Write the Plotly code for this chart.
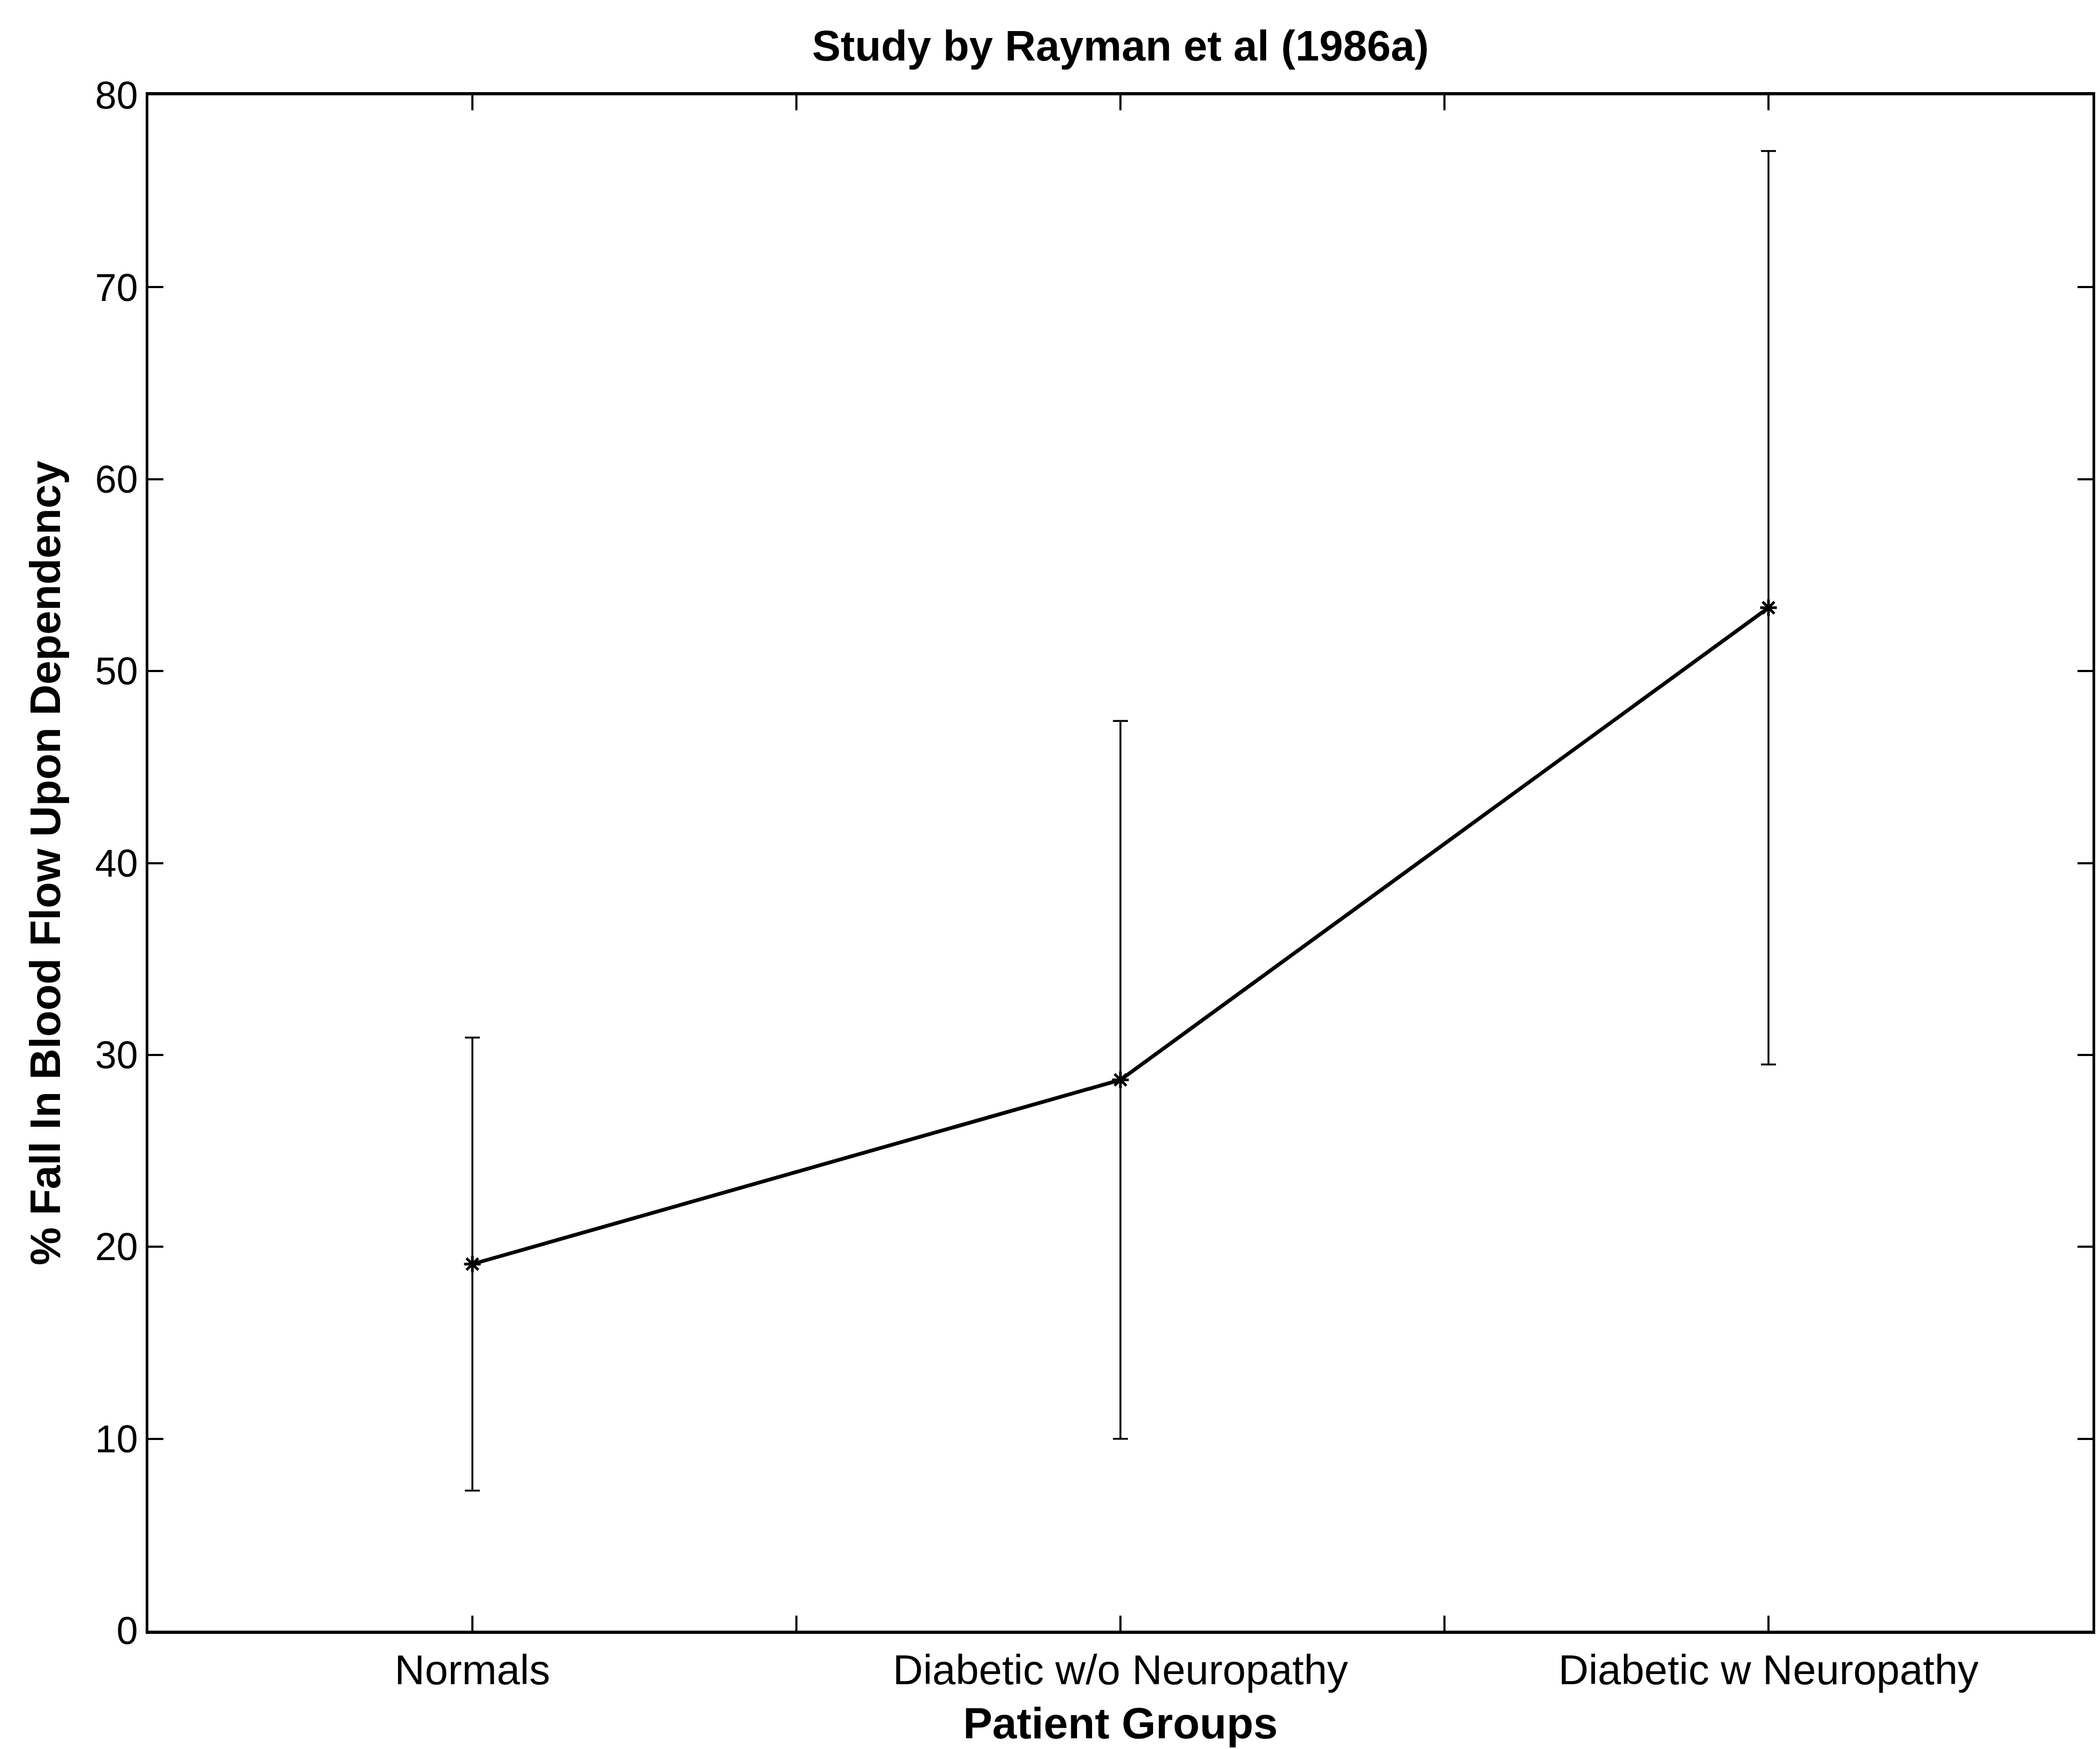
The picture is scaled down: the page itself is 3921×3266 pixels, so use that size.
import plotly.graph_objects as go

# Group means and symmetric error half-widths (% fall in blood flow)
groups = ["Normals", "Diabetic w/o Neuropathy", "Diabetic w Neuropathy"]
group_pos = [1, 2, 3]
mean_fall = [19.1, 28.7, 53.3]
err_fall = [11.8, 18.7, 23.8]

x_tick_vals = [1, 1.5, 2, 2.5, 3]
x_tick_text = ["Normals", "", "Diabetic w/o Neuropathy", "", "Diabetic w Neuropathy"]
y_tick_vals = [0, 10, 20, 30, 40, 50, 60, 70, 80]

W, H = 3921, 3266
L, R, T, B = 277, 9, 178, 221

fig = go.Figure()
fig.add_trace(go.Scatter(
    x=group_pos,
    y=mean_fall,
    mode="lines+markers",
    line=dict(color="black", width=7),
    marker=dict(symbol="asterisk-open", size=26, color="black",
                line=dict(color="black", width=5)),
    error_y=dict(type="data", array=err_fall, symmetric=True,
                 color="black", thickness=3.5, width=14),
    showlegend=False,
))

font_main = "Liberation Sans, Arial, Helvetica, sans-serif"

fig.update_layout(
    width=W, height=H,
    margin=dict(l=L, r=R, t=T, b=B),
    paper_bgcolor="white",
    plot_bgcolor="white",
    font=dict(family=font_main, color="black"),
    title=dict(
        text="<b>Study by Rayman et al (1986a)</b>",
        font=dict(size=80, family=font_main, color="black"),
        x=0.5, xref="paper", xanchor="center",
        y=1 - 85 / H, yref="container", yanchor="middle",
    ),
    xaxis=dict(
        range=[0.5, 3.5],
        tickmode="array", tickvals=x_tick_vals, ticktext=x_tick_text,
        ticks="inside", ticklen=28, tickwidth=4, tickcolor="black",
        showline=True, linecolor="black", linewidth=6, mirror="allticks",
        showgrid=False, zeroline=False,
        tickfont=dict(size=78, family=font_main),
        title=dict(text="<b>Patient Groups</b>",
                   font=dict(size=82, family=font_main), standoff=30),
    ),
    yaxis=dict(
        range=[0, 80],
        tickmode="array", tickvals=y_tick_vals,
        ticks="inside", ticklen=28, tickwidth=4, tickcolor="black",
        showline=True, linecolor="black", linewidth=5, mirror="allticks",
        showgrid=False, zeroline=False,
        tickfont=dict(size=72, family=font_main),
        title=dict(text="<b>% Fall In Blood Flow Upon Dependency</b>",
                   font=dict(size=80, family=font_main), standoff=40),
    ),
)

fig.write_html("out.html")
